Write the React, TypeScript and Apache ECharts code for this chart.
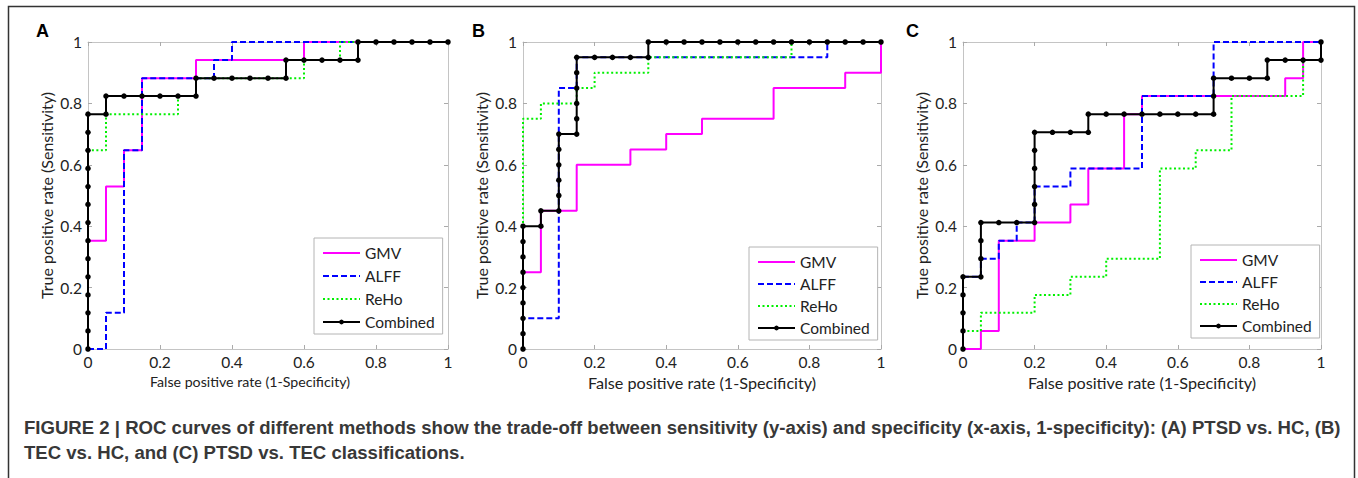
import React, { useEffect, useRef } from "react";
import * as echarts from "echarts";

// ---------- data ----------
const methods = ["GMV", "ALFF", "ReHo", "Combined"];
const panelLetters = ["A", "B", "C"];
const xName = "False positive rate (1-Specificity)";
const yName = "True positive rate (Sensitivity)";
const captionLines = [
  "FIGURE 2 | ROC curves of different methods show the trade-off between sensitivity (y-axis) and specificity (x-axis, 1-specificity): (A) PTSD vs. HC, (B)",
  "TEC vs. HC, and (C) PTSD vs. TEC classifications.",
];

// Panel A: PTSD vs. HC
const aGMV = [[0,0],[0,0.353],[0.05,0.353],[0.05,0.529],[0.1,0.529],[0.1,0.647],[0.15,0.647],[0.15,0.882],[0.3,0.882],[0.3,0.941],[0.6,0.941],[0.6,1],[1,1]];
const aALFF = [[0,0],[0.05,0],[0.05,0.118],[0.1,0.118],[0.1,0.647],[0.15,0.647],[0.15,0.882],[0.35,0.882],[0.35,0.941],[0.4,0.941],[0.4,1],[1,1]];
const aReHo = [[0,0],[0,0.647],[0.05,0.647],[0.05,0.765],[0.25,0.765],[0.25,0.824],[0.3,0.824],[0.3,0.882],[0.6,0.882],[0.6,0.941],[0.7,0.941],[0.7,1],[1,1]];
const aCombined = [[0,0],[0,0.059],[0,0.118],[0,0.176],[0,0.235],[0,0.294],[0,0.353],[0,0.412],[0,0.471],[0,0.529],[0,0.588],[0,0.647],[0,0.706],[0,0.765],[0.05,0.765],[0.05,0.824],[0.1,0.824],[0.15,0.824],[0.2,0.824],[0.25,0.824],[0.3,0.824],[0.3,0.882],[0.35,0.882],[0.4,0.882],[0.45,0.882],[0.5,0.882],[0.55,0.882],[0.55,0.941],[0.6,0.941],[0.65,0.941],[0.7,0.941],[0.75,0.941],[0.75,1],[0.8,1],[0.85,1],[0.9,1],[0.95,1],[1,1]];

// Panel B: TEC vs. HC
const bGMV = [[0,0],[0,0.25],[0.05,0.25],[0.05,0.45],[0.15,0.45],[0.15,0.6],[0.3,0.6],[0.3,0.65],[0.4,0.65],[0.4,0.7],[0.5,0.7],[0.5,0.75],[0.7,0.75],[0.7,0.85],[0.9,0.85],[0.9,0.9],[1,0.9],[1,1]];
const bALFF = [[0,0],[0,0.1],[0.1,0.1],[0.1,0.85],[0.15,0.85],[0.15,0.95],[0.85,0.95],[0.85,1],[1,1]];
const bReHo = [[0,0],[0,0.75],[0.05,0.75],[0.05,0.8],[0.15,0.8],[0.15,0.85],[0.2,0.85],[0.2,0.9],[0.35,0.9],[0.35,0.95],[0.75,0.95],[0.75,1],[1,1]];
const bCombined = [[0,0],[0,0.05],[0,0.1],[0,0.15],[0,0.2],[0,0.25],[0,0.3],[0,0.35],[0,0.4],[0.05,0.4],[0.05,0.45],[0.1,0.45],[0.1,0.5],[0.1,0.55],[0.1,0.6],[0.1,0.65],[0.1,0.7],[0.15,0.7],[0.15,0.75],[0.15,0.8],[0.15,0.85],[0.15,0.9],[0.15,0.95],[0.2,0.95],[0.25,0.95],[0.3,0.95],[0.35,0.95],[0.35,1],[0.4,1],[0.45,1],[0.5,1],[0.55,1],[0.6,1],[0.65,1],[0.7,1],[0.75,1],[0.8,1],[0.85,1],[0.9,1],[0.95,1],[1,1]];

// Panel C: PTSD vs. TEC
const cGMV = [[0,0],[0.05,0],[0.05,0.059],[0.1,0.059],[0.1,0.353],[0.2,0.353],[0.2,0.412],[0.3,0.412],[0.3,0.471],[0.35,0.471],[0.35,0.588],[0.45,0.588],[0.45,0.765],[0.5,0.765],[0.5,0.824],[0.9,0.824],[0.9,0.882],[0.95,0.882],[0.95,1],[1,1]];
const cALFF = [[0,0],[0,0.235],[0.05,0.235],[0.05,0.294],[0.1,0.294],[0.1,0.353],[0.15,0.353],[0.15,0.412],[0.2,0.412],[0.2,0.529],[0.3,0.529],[0.3,0.588],[0.5,0.588],[0.5,0.824],[0.7,0.824],[0.7,1],[1,1]];
const cReHo = [[0,0],[0,0.059],[0.05,0.059],[0.05,0.118],[0.2,0.118],[0.2,0.176],[0.3,0.176],[0.3,0.235],[0.4,0.235],[0.4,0.294],[0.55,0.294],[0.55,0.588],[0.65,0.588],[0.65,0.647],[0.75,0.647],[0.75,0.824],[0.95,0.824],[0.95,0.941],[1,0.941],[1,1]];
const cCombined = [[0,0],[0,0.059],[0,0.118],[0,0.176],[0,0.235],[0.05,0.235],[0.05,0.294],[0.05,0.353],[0.05,0.412],[0.1,0.412],[0.15,0.412],[0.2,0.412],[0.2,0.471],[0.2,0.529],[0.2,0.588],[0.2,0.647],[0.2,0.706],[0.25,0.706],[0.3,0.706],[0.35,0.706],[0.35,0.765],[0.4,0.765],[0.45,0.765],[0.5,0.765],[0.55,0.765],[0.6,0.765],[0.65,0.765],[0.7,0.765],[0.7,0.824],[0.7,0.882],[0.75,0.882],[0.8,0.882],[0.85,0.882],[0.85,0.941],[0.9,0.941],[0.95,0.941],[1,0.941],[1,1]];

const panelData = [
  [aGMV, aALFF, aReHo, aCombined],
  [bGMV, bALFF, bReHo, bCombined],
  [cGMV, cALFF, cReHo, cCombined],
];

// ---------- layout / styles ----------
const GRIDS = [
  { left: 88, top: 42, width: 360, height: 307 },
  { left: 523, top: 42, width: 358, height: 307 },
  { left: 963, top: 42, width: 358, height: 307 },
];
const LEGENDS = [
  { left: 314, top: 238, itemGap: 7 },
  { left: 749, top: 247, itemGap: 6 },
  { left: 1191, top: 245, itemGap: 6 },
];
const LETTER_POS = [
  { x: 36, y: 31 },
  { x: 472, y: 31 },
  { x: 906, y: 31 },
];
const STYLE: Record<string, any> = {
  GMV: { color: "#ff00ff", type: "solid" },
  ALFF: { color: "#0000ff", type: [6, 3] },
  ReHo: { color: "#00f000", type: [2, 2.5] },
  Combined: { color: "#000000", type: "solid" },
};
const FONT = "Lato";
const AXIS_GREY = "#c4c4c4";
const TEXT = "#222";

function captionScale(text: string, font: string, target: number) {
  try {
    const ctx = document.createElement("canvas").getContext("2d");
    if (!ctx) return 1;
    ctx.font = font;
    const w = ctx.measureText(text).width;
    return w > 0 ? target / w : 1;
  } catch (e) {
    return 1;
  }
}

export default function App() {
  const ref = useRef<HTMLDivElement>(null);
  useEffect(() => {
    document.body.style.margin = "0";
    document.body.style.overflow = "hidden";
    const chart = echarts.init(ref.current!, null, { renderer: "svg" });

    const xAxis: any[] = [];
    const yAxis: any[] = [];
    const series: any[] = [];
    GRIDS.forEach((g, i) => {
      const common = {
        gridIndex: i,
        type: "value",
        min: 0,
        max: 1,
        interval: 0.2,
        splitLine: { show: false },
        axisLine: { show: true, onZero: false, lineStyle: { color: AXIS_GREY, width: 1 } },
        axisTick: { show: true, inside: true, length: 4, lineStyle: { color: "#aaaaaa" } },
      };
      xAxis.push({
        ...common,
        position: "bottom",
        name: xName,
        nameLocation: "middle",
        nameGap: 17,
        nameTextStyle: {
          fontFamily: FONT,
          fontSize: i === 0 ? 14.2 : 16.2,
          color: TEXT,
          padding: i === 0 ? [0, 36, 0, 0] : 0,
        },
        axisLabel: { margin: 5, fontFamily: FONT, fontSize: 15.5, color: TEXT },
      });
      yAxis.push({
        ...common,
        position: "left",
        name: yName,
        nameLocation: "middle",
        nameGap: 34,
        nameTextStyle: { fontFamily: FONT, fontSize: 16, color: TEXT },
        axisLabel: { margin: 6, fontFamily: FONT, fontSize: 15.5, color: TEXT },
      });
    });
    // top/right box edges with inward ticks
    GRIDS.forEach((g, i) => {
      const common = {
        gridIndex: i,
        type: "value",
        min: 0,
        max: 1,
        interval: 0.2,
        splitLine: { show: false },
        axisLabel: { show: false },
        axisLine: { show: true, onZero: false, lineStyle: { color: AXIS_GREY, width: 1 } },
        axisTick: { show: true, inside: true, length: 4, lineStyle: { color: "#aaaaaa" } },
      };
      xAxis.push({ ...common, position: "top" });
      yAxis.push({ ...common, position: "right" });
    });

    panelData.forEach((sets, i) => {
      sets.forEach((data, k) => {
        const name = methods[k];
        const st = STYLE[name];
        const isComb = name === "Combined";
        series.push({
          type: "line",
          name,
          xAxisIndex: i,
          yAxisIndex: i,
          data,
          clip: false,
          z: 2 + k,
          symbol: isComb ? "circle" : "none",
          symbolSize: isComb ? 5.5 : 0,
          showSymbol: isComb,
          itemStyle: { color: st.color, borderWidth: 0 },
          lineStyle: { color: st.color, width: 2, type: st.type },
          emphasis: { disabled: true },
          silent: true,
        });
      });
    });

    const legendData = methods.map((m) =>
      m === "Combined" ? { name: m } : { name: m, itemStyle: { opacity: 0 } }
    );
    const legend = LEGENDS.map((l) => ({
      left: l.left,
      top: l.top,
      orient: "vertical",
      data: legendData,
      selectedMode: false,
      itemWidth: 37,
      itemHeight: 6,
      itemGap: l.itemGap,
      padding: [7, 8, 4, 8],
      backgroundColor: "#ffffff",
      borderColor: "#b4b4b4",
      borderWidth: 1,
      borderRadius: 0,
      textStyle: { fontFamily: FONT, fontSize: 15.5, color: TEXT },
    }));

    const capFont = "bold 18px 'Liberation Sans Narrow', 'Liberation Sans', Arial, sans-serif";
    const sx = captionScale(captionLines[0], capFont, 1317);

    const graphic: any[] = [
      {
        type: "rect",
        shape: { x: 8.5, y: 6.5, width: 1346, height: 520 },
        style: { fill: "none", stroke: "#333", lineWidth: 1.5 },
        silent: true,
        z: 0,
      },
      ...panelLetters.map((t, i) => ({
        type: "text",
        x: LETTER_POS[i].x,
        y: LETTER_POS[i].y,
        style: {
          text: t,
          fontFamily: "'Liberation Sans', Arial, sans-serif",
          fontWeight: "bold",
          fontSize: 18,
          fill: "#000",
          verticalAlign: "middle",
          align: "left",
        },
        silent: true,
      })),
      ...captionLines.map((t, i) => ({
        type: "text",
        x: 24,
        y: 428 + i * 25,
        scaleX: sx,
        style: {
          text: t,
          fontFamily: "'Liberation Sans Narrow', 'Liberation Sans', Arial, sans-serif",
          fontWeight: "bold",
          fontSize: 18,
          fill: "#383838",
          verticalAlign: "middle",
          align: "left",
        },
        silent: true,
      })),
    ];

    chart.setOption({
      animation: false,
      backgroundColor: "#ffffff",
      grid: GRIDS.map((g) => ({ ...g, containLabel: false })),
      xAxis,
      yAxis,
      legend,
      series,
      graphic,
    });
    return () => chart.dispose();
  }, []);
  return <div ref={ref} style={{ width: 1358, height: 478 }} />;
}
